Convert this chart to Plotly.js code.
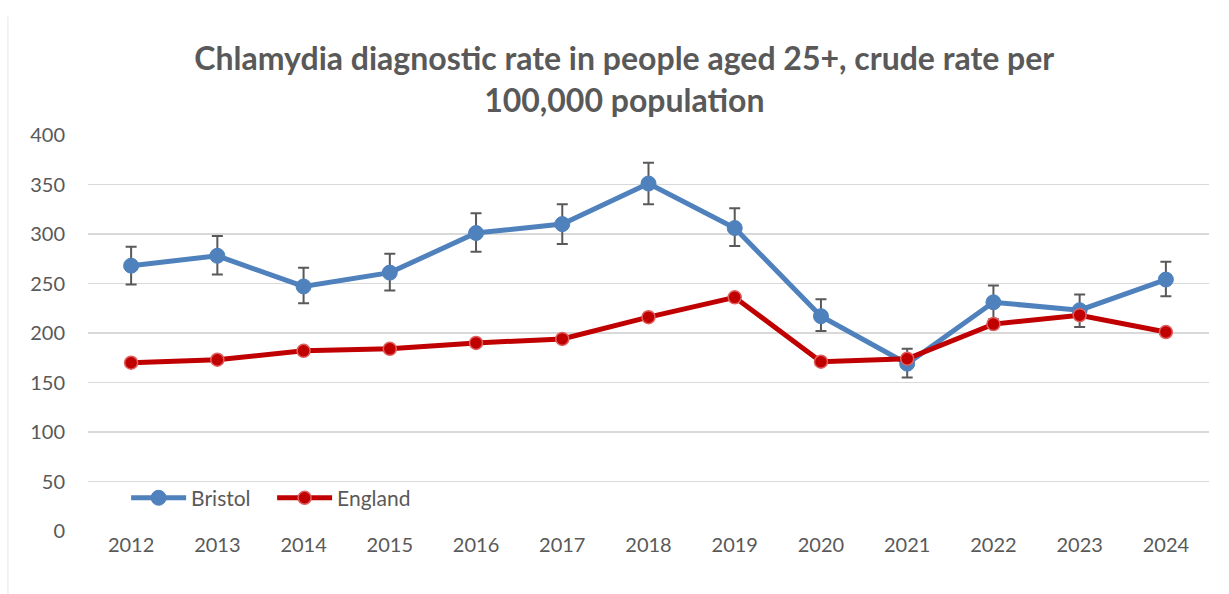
<!DOCTYPE html>
<html>
<head>
<meta charset="utf-8">
<script src="https://cdn.plot.ly/plotly-3.0.1.min.js"></script>
<style>
html,body{margin:0;padding:0;background:#fff;}
#chart{width:1229px;height:594px;}
</style>
</head>
<body>
<div id="chart"></div>
<script>
const years = ["2012","2013","2014","2015","2016","2017","2018","2019","2020","2021","2022","2023","2024"];
const bristol = [268, 278, 247, 261, 301, 310, 351, 306, 217, 169, 231, 223, 254];
const bristolUpper = [287, 298, 266, 280, 321, 330, 372, 326, 234, 184, 248, 239, 272];
const bristolLower = [249, 259, 230, 243, 282, 290, 330, 288, 202, 155, 214, 206, 237];
const england = [170, 173, 182, 184, 190, 194, 216, 236, 171, 174, 209, 218, 201];
const yTicks = [0, 50, 100, 150, 200, 250, 300, 350, 400];

const errPlus = bristolUpper.map((u, i) => u - bristol[i]);
const errMinus = bristol.map((v, i) => v - bristolLower[i]);

const fontFam = "Lato, 'Open Sans', sans-serif";

const traces = [
  {
    x: years, y: bristol, name: "Bristol", type: "scatter", mode: "lines+markers",
    line: {color: "#4F81BD", width: 5},
    marker: {color: "#4F81BD", size: 15, line: {color: "#4F81BD", width: 1}},
    error_y: {type: "data", symmetric: false, array: errPlus, arrayminus: errMinus,
              color: "#595959", thickness: 2, width: 5.5}
  },
  {
    x: years, y: england, name: "England", type: "scatter", mode: "lines+markers",
    line: {color: "#C00000", width: 5},
    marker: {color: "#C00000", size: 13, line: {color: "#E06060", width: 1.5}}
  }
];

const layout = {
  width: 1229, height: 594,
  margin: {l: 88, r: 20, t: 135, b: 63},
  paper_bgcolor: "#ffffff", plot_bgcolor: "#ffffff",
  title: {
    text: "Chlamydia diagnostic rate in people aged 25+, crude rate per<br>100,000 population",
    font: {family: fontFam, size: 32, color: "#595959", weight: "bold"},
    x: 0.508, xref: "container", xanchor: "center", y: 0.882, yref: "container", yanchor: "middle"
  },
  xaxis: {
    type: "category", range: [-0.5, 12.5], showgrid: false, zeroline: false,
    showline: false, ticks: "", tickfont: {family: fontFam, size: 20, color: "#595959"},
    fixedrange: true
  },
  yaxis: {
    range: [0, 400], tickvals: yTicks, ticktext: yTicks.map(String),
    showgrid: true, gridcolor: "#D9D9D9", gridwidth: 1.5, zeroline: false, showline: false,
    ticks: "", ticklabelstandoff: 22,
    tickfont: {family: fontFam, size: 20, color: "#595959"}, fixedrange: true
  },
  showlegend: true,
  legend: {
    orientation: "h", x: 0.034, xanchor: "left", y: 0.083, yanchor: "middle",
    font: {family: fontFam, size: 21, color: "#595959"}, bgcolor: "rgba(0,0,0,0)",
    itemwidth: 55, tracegroupgap: 0, entrywidth: 76, entrywidthmode: "pixels"
  },
  shapes: [
    {type: "line", xref: "paper", yref: "paper", x0: -0.0714, x1: -0.0714, y0: -0.2, y1: 1.3,
     line: {color: "#E6E6E6", width: 1}}
  ]
};

Plotly.newPlot("chart", traces, layout, {displayModeBar: false, staticPlot: true});
</script>
</body>
</html>
